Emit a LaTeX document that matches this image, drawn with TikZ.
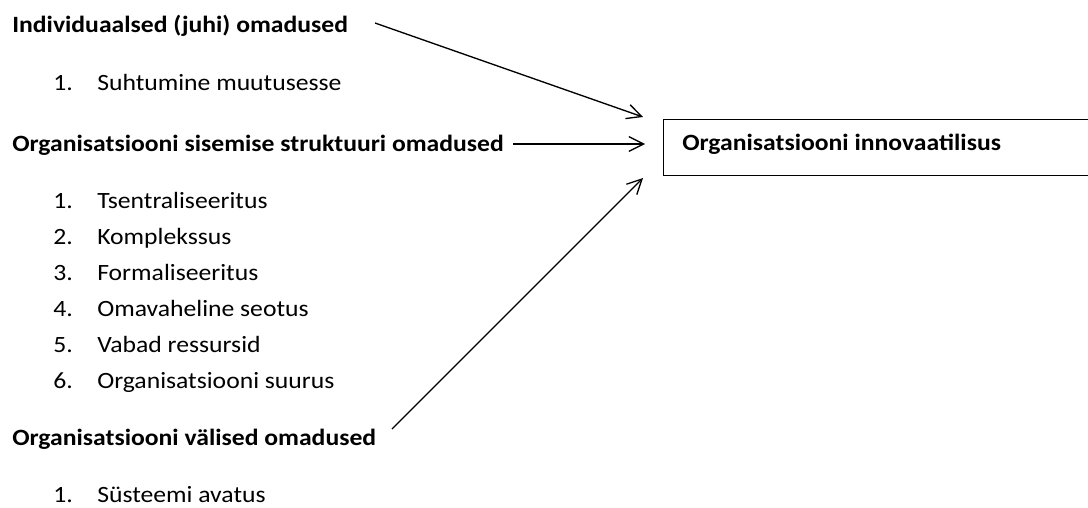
\documentclass[tikz,border=0pt]{standalone}
\usepackage{fontspec}
\setmainfont{Carlito}[FakeStretch=1.1]
\usetikzlibrary{arrows.meta}
\begin{document}
\begin{tikzpicture}[x=0.75pt,y=-0.75pt,
  txt/.style={anchor=base west,inner sep=0pt,font=\fontsize{17.5}{20}\selectfont},
  head/.style={txt,font=\fontsize{17.5}{20}\selectfont\bfseries},
  conn/.style={line width=1pt,-{Straight Barb[length=11pt,width=11pt,line width=1pt]}},
  framebox/.style={draw,line width=1pt,inner sep=0pt,anchor=north west}]
\useasboundingbox (0,0) rectangle (1088,507);
% headings
\node[head] (h1) at (12,32) {Individuaalsed (juhi) omadused};
\node[head] (h2) at (12,151) {Organisatsiooni sisemise struktuuri omadused};
\node[head] (h3) at (12,445) {Organisatsiooni välised omadused};
% list items
\node[txt] (n11) at (53,90) {1.};
\node[txt] (t11) at (97,90) {Suhtumine muutusesse};
\node[txt] (n21) at (53,208) {1.};
\node[txt] (t21) at (97,208) {Tsentraliseeritus};
\node[txt] (n22) at (53,244) {2.};
\node[txt] (t22) at (97,244) {Komplekssus};
\node[txt] (n23) at (53,280) {3.};
\node[txt] (t23) at (97,280) {Formaliseeritus};
\node[txt] (n24) at (53,316) {4.};
\node[txt] (t24) at (97,316) {Omavaheline seotus};
\node[txt] (n25) at (53,352) {5.};
\node[txt] (t25) at (97,352) {Vabad ressursid};
\node[txt] (n26) at (53,388) {6.};
\node[txt] (t26) at (97,388) {Organisatsiooni suurus};
\node[txt] (n31) at (53,502) {1.};
\node[txt] (t31) at (97,502) {Süsteemi avatus};
% target box
\node[framebox,minimum width=321pt,minimum height=42pt] (box) at (663,119) {};
\node[head] (boxlabel) at (682,150) {Organisatsiooni innovaatilisus};
% connector end points
\coordinate (s1) at (375,23);
\coordinate (e1) at (643,117);
\coordinate (s2) at (513,144);
\coordinate (e2) at (645,144);
\coordinate (s3) at (392,429);
\coordinate (e3) at (643,178);
\draw[conn] (s1) -- (e1);
\draw[conn] (s2) -- (e2);
\draw[conn] (s3) -- (e3);
\end{tikzpicture}
\end{document}
